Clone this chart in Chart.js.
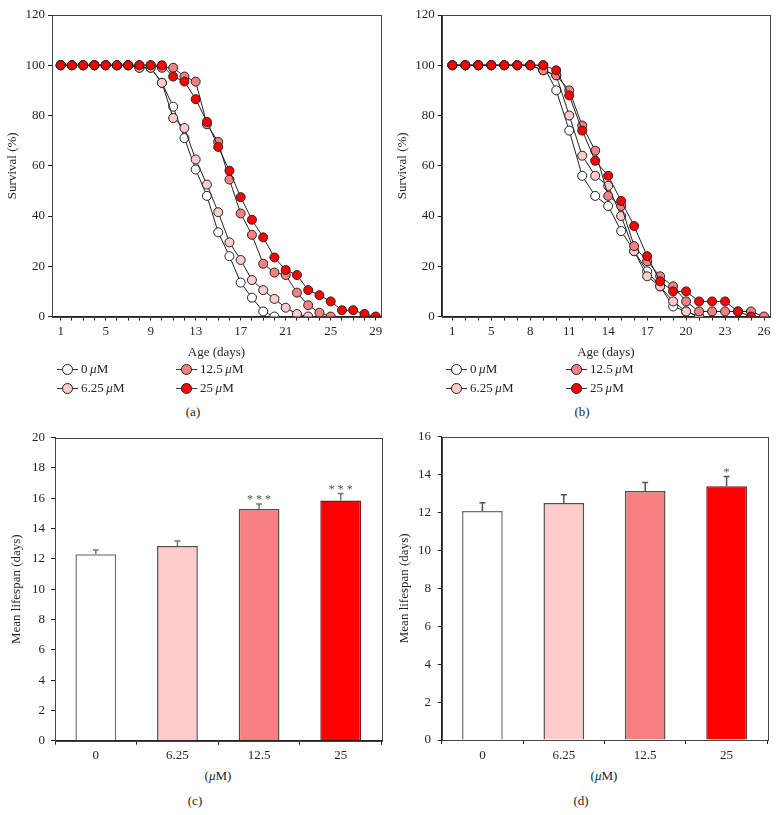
<!DOCTYPE html>
<html>
<head>
<meta charset="utf-8">
<script src="https://cdn.jsdelivr.net/npm/chart.js@4.4.0/dist/chart.umd.min.js"></script>
<style>
  body { margin: 0; background: #fff; width: 779px; height: 815px; position: relative; overflow: hidden;
         font-family: "Liberation Serif", "DejaVu Serif", serif; color: #231f20; }
  canvas { position: absolute; }
  .lbl { position: absolute; font-size: 13px; transform: translate(-50%, -50%); white-space: nowrap; }
  .leg { position: absolute; font-size: 13px; display: flex; align-items: center; transform: translateY(-50%); white-space: nowrap; }
  .sym { position: relative; width: 21px; height: 11px; margin-right: 3px; }
  .sym::before { content: ''; position: absolute; left: 0; right: 0; top: 5px; border-top: 1px solid #333; }
  .sym span { position: absolute; left: 5px; top: 0; width: 9px; height: 9px; border-radius: 50%; border: 1px solid #222; }
</style>
</head>
<body>
<canvas id="chart-a" width="390" height="362" style="left:0;top:0"></canvas>
<canvas id="chart-b" width="389" height="362" style="left:390px;top:0"></canvas>
<canvas id="chart-c" width="390" height="345" style="left:0;top:420px"></canvas>
<canvas id="chart-d" width="389" height="345" style="left:390px;top:420px"></canvas>
<div id="extras"></div>

<script>
// 剂量分组
const doseLabels = ['0', '6.25', '12.5', '25'];
const doseColors = ['#ffffff', '#ffcccc', '#f98080', '#ff0000'];
const barEdges = ['#707070', '#505050', '#505050', '#7a1a1a'];

// (a) 生存曲线，第1天起每天一个点
const daysA = [1, 2, 3, 4, 5, 6, 7, 8, 9, 10, 11, 12, 13, 14, 15, 16, 17, 18, 19, 20, 21, 22, 23, 24, 25, 26, 27, 28, 29];
const tickDaysA = [1, 5, 9, 13, 17, 21, 25, 29];
const survA0 = [100, 100, 100, 100, 100, 100, 100, 99, 99, 93, 83.5, 71, 58.5, 48, 33.5, 24, 13.5, 7.5, 2, 0];
const survA6 = [100, 100, 100, 100, 100, 100, 100, 99, 99, 93, 79, 75, 62.5, 52.5, 41.5, 29.5, 22.5, 14.5, 10.5, 7, 3.5, 1, 0];
const survA12 = [100, 100, 100, 100, 100, 100, 100, 100, 100, 99, 99, 95.5, 93.5, 76.5, 69.5, 54.5, 41, 32.5, 21, 17.5, 16.5, 9.5, 4.5, 1.5, 0];
const survA25 = [100, 100, 100, 100, 100, 100, 100, 100, 100, 100, 95.5, 93.5, 86.5, 77.5, 67.5, 58, 47.5, 38.5, 31.5, 23.5, 18.5, 16.5, 10.5, 8.5, 6, 2.5, 2.5, 1, 0];

// (b) 生存曲线
const daysB = [1, 3, 4, 5, 6, 7, 8, 9, 10, 11, 12, 13, 14, 15, 16, 17, 18, 19, 20, 21, 22, 23, 24, 25, 26];
const tickDaysB = [1, 5, 8, 11, 14, 17, 20, 23, 26];
const survB0 = [100, 100, 100, 100, 100, 100, 100, 100, 90, 74, 56, 48, 44, 34, 26, 18, 12, 4, 2, 0];
const survB6 = [100, 100, 100, 100, 100, 100, 100, 98, 96, 80, 64, 56, 52, 40, 26, 16, 12, 6, 2, 0];
const survB12 = [100, 100, 100, 100, 100, 100, 100, 98, 96, 90, 76, 66, 48, 44, 28, 22, 16, 12, 6, 2, 2, 2, 2, 2, 0];
const survB25 = [100, 100, 100, 100, 100, 100, 100, 100, 98, 88, 74, 62, 56, 46, 36, 24, 14, 10, 10, 6, 6, 6, 2, 0];

// (c)(d) 平均寿命
const meanC = [12.3, 12.85, 15.3, 15.85];
const errC = [0.28, 0.33, 0.33, 0.47];
const starsC = ['', '', '* * *', '* * *'];
const meanD = [12.08, 12.5, 13.13, 13.38];
const errD = [0.44, 0.44, 0.46, 0.52];
const starsD = ['', '', '', '*'];

const FONT = '"Liberation Serif", "DejaVu Serif", serif';
const INK = '#231f20';

// 绘图区外框
const framePlugin = {
  id: 'frame',
  afterDraw(chart) {
    const { ctx, chartArea: a } = chart;
    ctx.save();
    ctx.strokeStyle = '#444';
    ctx.lineWidth = 1;
    ctx.strokeRect(Math.round(a.left) + 0.5, Math.round(a.top) + 0.5,
      Math.round(a.right - a.left), Math.round(a.bottom - a.top));
    ctx.restore();
  }
};

// 误差线和显著性星号
const errorPlugin = {
  id: 'errorBars',
  afterDatasetsDraw(chart, args, opts) {
    const { ctx } = chart;
    const yScale = chart.scales.y;
    const meta = chart.getDatasetMeta(0);
    const vals = chart.data.datasets[0].data;
    ctx.save();
    meta.data.forEach((bar, i) => {
      const top = yScale.getPixelForValue(vals[i] + opts.errors[i]);
      ctx.strokeStyle = opts.color;
      ctx.lineWidth = 1.5;
      ctx.beginPath();
      ctx.moveTo(bar.x, bar.y);
      ctx.lineTo(bar.x, top);
      ctx.moveTo(bar.x - 3, top);
      ctx.lineTo(bar.x + 3, top);
      ctx.stroke();
      if (opts.stars[i]) {
        ctx.fillStyle = '#555';
        ctx.font = '12px ' + FONT;
        ctx.textAlign = 'center';
        ctx.textBaseline = 'alphabetic';
        ctx.fillText(opts.stars[i], bar.x, top - 0.5);
      }
    });
    ctx.restore();
  }
};

function axisFont() {
  return { family: FONT, size: 13 };
}

function survivalChart(id, xs, series, tickLabels, o) {
  const datasets = series.map((s, k) => ({
    label: doseLabels[k] + ' μM',
    data: s.map((v, i) => ({ x: xs[i], y: v })),
    borderColor: '#222',
    borderWidth: 1,
    backgroundColor: doseColors[k],
    pointBackgroundColor: doseColors[k],
    pointBorderColor: '#222',
    pointBorderWidth: 1,
    pointRadius: 4.5,
    tension: 0,
    order: 4 - k
  }));
  return new Chart(document.getElementById(id), {
    type: 'line',
    data: { datasets },
    options: {
      responsive: false,
      animation: false,
      layout: { padding: { top: 15, right: o.right, left: 0, bottom: 0 } },
      plugins: { legend: { display: false }, tooltip: { enabled: false } },
      scales: {
        x: {
          type: 'linear',
          min: o.xmin,
          max: o.xmax,
          afterFit: s => { s.height = 45.5; },
          afterBuildTicks: ax => { ax.ticks = xs.map(v => ({ value: v })); },
          ticks: {
            autoSkip: false, maxRotation: 0, padding: 3.2, color: INK, font: axisFont(),
            callback: v => { const lab = o.label(v); return tickLabels.includes(lab) ? String(lab) : ''; }
          },
          grid: { drawOnChartArea: false, tickLength: 4, color: INK },
          border: { color: INK },
          title: { display: true, text: 'Age (days)', color: INK, font: axisFont(), padding: { top: 0, bottom: 2 } }
        },
        y: {
          min: 0, max: 120,
          afterFit: s => { s.width = o.yw; },
          ticks: { stepSize: 20, padding: 3, color: INK, font: axisFont() },
          grid: { drawOnChartArea: false, tickLength: 4, color: INK },
          border: { color: INK },
          title: { display: true, text: 'Survival (%)', color: INK, font: axisFont(), padding: { top: 5, bottom: 0 } }
        }
      }
    },
    plugins: [framePlugin]
  });
}

function lifespanChart(id, means, errs, stars, o) {
  return new Chart(document.getElementById(id), {
    type: 'bar',
    data: {
      labels: doseLabels,
      datasets: [{
        data: means,
        backgroundColor: doseColors,
        borderColor: barEdges,
        borderWidth: 1.5,
        barPercentage: 0.5,
        categoryPercentage: 1
      }]
    },
    options: {
      responsive: false,
      animation: false,
      layout: { padding: { top: o.top, right: o.right, left: 0, bottom: 0 } },
      plugins: {
        legend: { display: false },
        tooltip: { enabled: false },
        errorBars: { errors: errs, stars: stars, color: o.errColor }
      },
      scales: {
        x: {
          afterFit: s => { s.height = o.xh; },
          ticks: { maxRotation: 0, padding: 3.5, color: INK, font: axisFont() },
          grid: { drawOnChartArea: false, tickLength: 4, color: INK, offset: true },
          border: { color: INK }
        },
        y: {
          min: 0, max: o.ymax,
          afterFit: s => { s.width = o.yw; },
          ticks: { stepSize: 2, padding: o.tpad, color: INK, font: axisFont() },
          grid: { drawOnChartArea: false, tickLength: 4, color: INK },
          border: { color: INK },
          title: { display: true, text: 'Mean lifespan (days)', color: INK, font: axisFont(), padding: { top: o.tt, bottom: 0 } }
        }
      }
    },
    plugins: [errorPlugin, framePlugin]
  });
}

survivalChart('chart-a', daysA, [survA0, survA6, survA12, survA25], tickDaysA,
  { xmin: 0.23, xmax: 29.47, yw: 52, right: 9, label: v => v });

// (b) 的横轴按序号等距排布
const idxB = daysB.map((d, i) => i);
survivalChart('chart-b', idxB, [survB0, survB6, survB12, survB25], tickDaysB,
  { xmin: -0.82, xmax: 24.46, yw: 51.7, right: 9, label: v => daysB[v] });

lifespanChart('chart-c', meanC, errC, starsC,
  { top: 17.7, right: 8.5, yw: 55, xh: 24.3, ymax: 20, tpad: 6, tt: 9, errColor: '#777' });
lifespanChart('chart-d', meanD, errD, starsD,
  { top: 16.7, right: 11.7, yw: 51.7, xh: 25, ymax: 16, tpad: 6.7, tt: 7, errColor: '#555' });

// 图例、分图标签（HTML 文本）
const extras = document.getElementById('extras');
function addLabel(html, x, y) {
  const d = document.createElement('div');
  d.className = 'lbl';
  d.style.left = x + 'px';
  d.style.top = y + 'px';
  d.innerHTML = html;
  extras.appendChild(d);
}
function addLegend(x1, x2, rowY) {
  const pos = [[x1, rowY[0]], [x1, rowY[1]], [x2, rowY[0]], [x2, rowY[1]]];
  doseLabels.forEach((lab, k) => {
    const d = document.createElement('div');
    d.className = 'leg';
    d.style.left = pos[k][0] + 'px';
    d.style.top = pos[k][1] + 'px';
    d.innerHTML = '<div class="sym"><span style="background:' + doseColors[k] + '"></span></div>' +
      lab + '&thinsp;<i>μ</i>M';
    extras.appendChild(d);
  });
}
addLegend(57, 176, [369, 388]);
addLegend(446, 566, [369, 388]);
addLabel('(a)', 193, 412);
addLabel('(b)', 582, 412);
addLabel('(<i>μ</i>M)', 218, 776);
addLabel('(<i>μ</i>M)', 604, 776);
addLabel('(c)', 195, 801);
addLabel('(d)', 581, 801);
</script>
</body>
</html>
